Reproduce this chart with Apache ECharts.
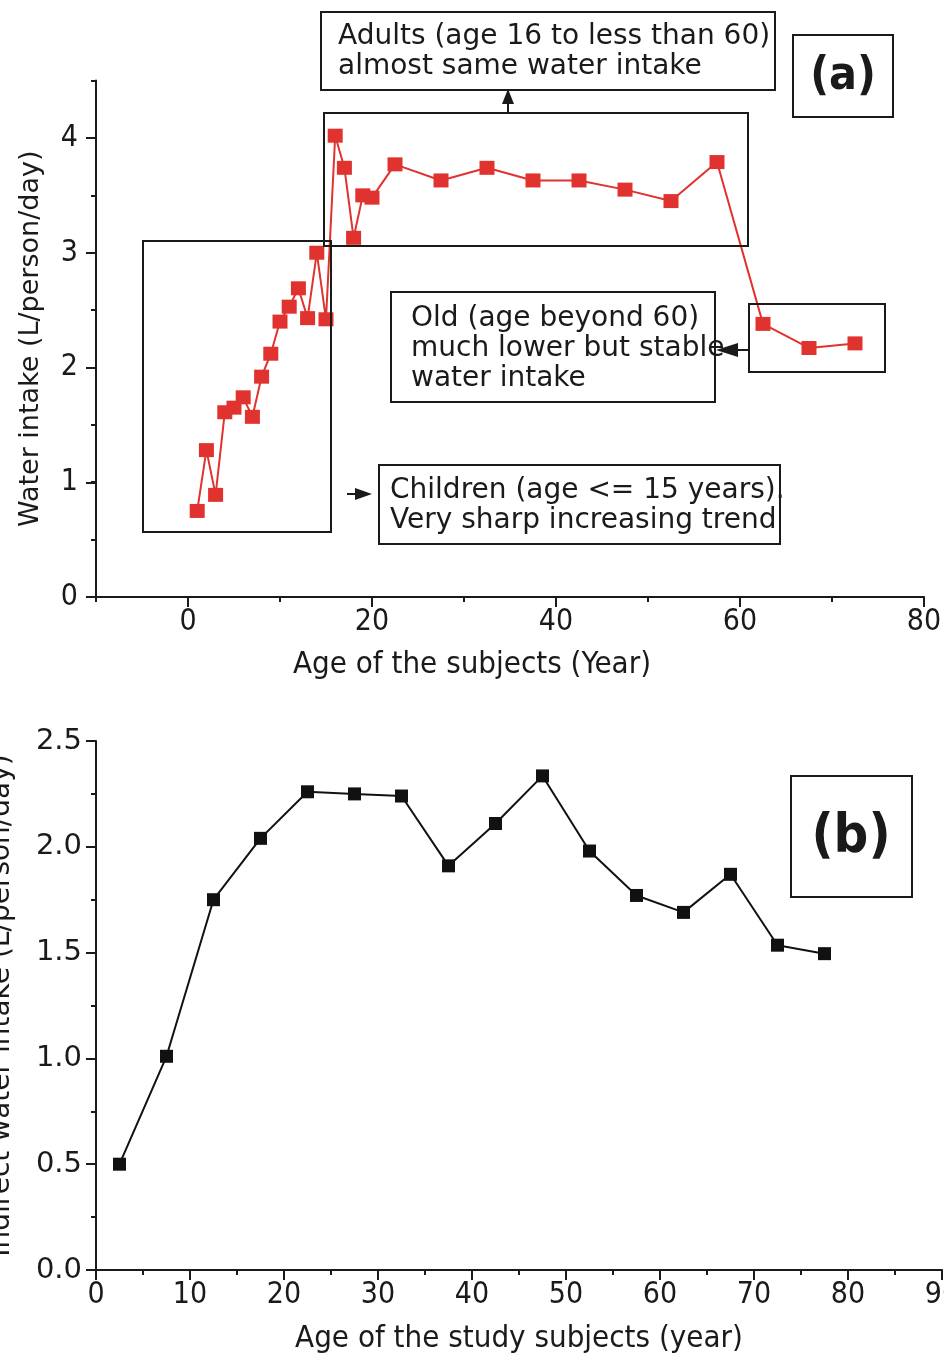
<!DOCTYPE html>
<html><head><meta charset="utf-8">
<script src="https://cdn.jsdelivr.net/npm/echarts@6/dist/echarts.min.js"></script>
<style>html,body{margin:0;padding:0;background:#fff}#c{width:944px;height:1357px}</style>
</head><body><div id="c"></div>
<script>
// ---- Panel (a) data ----
const ageA = [1,2,3,4,5,6,7,8,9,10,11,12,13,14,15,16,17,18,19,20,22.5,27.5,32.5,37.5,42.5,47.5,52.5,57.5,62.5,67.5,72.5];
const intakeA = [0.75,1.28,0.89,1.61,1.65,1.74,1.57,1.92,2.12,2.40,2.53,2.69,2.43,3.00,2.42,4.02,3.74,3.13,3.50,3.48,3.77,3.63,3.74,3.63,3.63,3.55,3.45,3.79,2.38,2.17,2.21];
// ---- Panel (b) data ----
const ageB = [2.5,7.5,12.5,17.5,22.5,27.5,32.5,37.5,42.5,47.5,52.5,57.5,62.5,67.5,72.5,77.5];
const intakeB = [0.50,1.01,1.75,2.04,2.26,2.25,2.24,1.91,2.11,2.335,1.98,1.77,1.69,1.87,1.535,1.495];
// ---- texts ----
const titleXA = 'Age of the subjects (Year)';
const titleYA = 'Water intake (L/person/day)';
const titleXB = 'Age of the study subjects (year)';
const titleYB = 'Indirect water intake (L/person/day)';
const noteAdults = 'Adults (age 16 to less than 60)\nalmost same water intake';
const noteOld = 'Old (age beyond 60)\nmuch lower but stable\nwater intake';
const noteChildren = 'Children (age <= 15 years).\nVery sharp increasing trend';

const INK = '#1a1a1a';
const RED = '#e0322e';
const COND = 'DejaVu Sans Condensed';
const SANS = 'DejaVu Sans';

const chart = echarts.init(document.getElementById('c'));

const axisLine = {onZero:false, lineStyle:{color:INK, width:2}};
const tickStyle = {color:INK, width:2};

function pairs(xs, ys){ return xs.map((x,i)=>[x, ys[i]]); }

const rect = (x,y,w,h,fill) => ({type:'rect', shape:{x,y,width:w,height:h}, style:{fill:fill||null, stroke:INK, lineWidth:2}, z:100});
const text = (x,y,t,font,align) => ({type:'text', x, y, style:{text:t, font, fill:INK, lineHeight:30, verticalAlign:'middle', align:align||'left'}, z:101});
const line = (x1,y1,x2,y2) => ({type:'line', shape:{x1,y1,x2,y2}, style:{stroke:INK, lineWidth:2}, z:101});
const tri = (pts) => ({type:'polygon', shape:{points:pts}, style:{fill:INK}, z:102});

const option = {
  animation:false,
  backgroundColor:'#fff',
  grid:[
    {left:96, top:80.6, width:828, height:516.4, containLabel:false, outerBoundsMode:'none'},
    {left:188, top:138, width:736, height:459, containLabel:false, outerBoundsMode:'none'},
    {left:96, top:741, width:846, height:529, containLabel:false, outerBoundsMode:'none'}
  ],
  xAxis:[
    {gridIndex:0, type:'value', min:-10, max:80, interval:10,
     axisLine, axisTick:{length:5, lineStyle:tickStyle}, axisLabel:{show:false}, splitLine:{show:false},
     name:titleXA, nameLocation:'middle', nameGap:52,
     nameTextStyle:{fontFamily:COND, fontSize:31, color:INK, padding:[0,76,0,0]}},
    {gridIndex:1, type:'value', min:0, max:80, interval:20,
     axisLine:{show:false, onZero:false}, axisTick:{length:10, lineStyle:tickStyle},
     axisLabel:{fontFamily:COND, fontSize:30, color:INK, margin:10}, splitLine:{show:false}},
    {gridIndex:2, type:'value', min:0, max:90, interval:10,
     axisLine, axisTick:{length:10, lineStyle:tickStyle},
     minorTick:{show:true, splitNumber:2, length:5, lineStyle:tickStyle},
     axisLabel:{fontFamily:COND, fontSize:30, color:INK, margin:10}, splitLine:{show:false},
     name:titleXB, nameLocation:'middle', nameGap:53,
     nameTextStyle:{fontFamily:COND, fontSize:31, color:INK}}
  ],
  yAxis:[
    {gridIndex:0, type:'value', min:0, max:4.5, interval:0.5,
     axisLine, axisTick:{length:5, lineStyle:tickStyle}, axisLabel:{show:false}, splitLine:{show:false},
     name:titleYA, nameLocation:'middle', nameGap:52,
     nameTextStyle:{fontFamily:SANS, fontSize:27, color:INK}},
    {gridIndex:1, type:'value', min:0, max:4, interval:1, offset:92,
     axisLine:{show:false, onZero:false}, axisTick:{length:10, lineStyle:tickStyle},
     axisLabel:{fontFamily:COND, fontSize:30, color:INK, margin:18}, splitLine:{show:false}},
    {gridIndex:2, type:'value', min:0, max:2.5, interval:0.5,
     axisLine, axisTick:{length:10, lineStyle:tickStyle},
     minorTick:{show:true, splitNumber:2, length:5, lineStyle:tickStyle},
     axisLabel:{fontFamily:SANS, fontSize:29, color:INK, margin:14, formatter:v=>v.toFixed(1)}, splitLine:{show:false},
     name:titleYB, nameLocation:'middle', nameGap:80,
     nameTextStyle:{fontFamily:SANS, fontSize:28, color:INK}}
  ],
  series:[
    {type:'line', xAxisIndex:0, yAxisIndex:0, data:pairs(ageA, intakeA),
     symbol:'rect', symbolSize:[15,14], showSymbol:true,
     itemStyle:{color:RED}, lineStyle:{color:RED, width:2}, z:5},
    {type:'line', xAxisIndex:2, yAxisIndex:2, data:pairs(ageB, intakeB),
     symbol:'rect', symbolSize:13, showSymbol:true,
     itemStyle:{color:'#111'}, lineStyle:{color:'#111', width:2}, z:5}
  ],
  graphic:[
    // grouping boxes in panel (a)
    rect(143,241,188,291),
    rect(324,113,424,133),
    rect(749,304,136,68),
    // note boxes
    rect(321,12,454,78,'#fff'),
    text(338,52,noteAdults,'28px "DejaVu Sans"'),
    rect(391,292,324,110,'#fff'),
    text(411,349,noteOld,'28px "DejaVu Sans"'),
    rect(379,465,401,79,'#fff'),
    text(390,506,noteChildren,'28px "DejaVu Sans"'),
    // arrows
    line(508,113,508,102), tri([[508,89],[502,104],[514,104]]),
    line(749,350,736,350), tri([[716,350],[738,343],[738,357]]),
    line(347,494,356,494), tri([[372,494],[355,488],[355,500]]),
    // panel labels
    rect(793,35,100,82,'#fff'),
    text(843,77,'(a)','bold 46px "DejaVu Sans Condensed"','center'),
    rect(791,776,121,121,'#fff'),
    text(851,838,'(b)','bold 54px "DejaVu Sans Condensed"','center')
  ]
};
chart.setOption(option);
</script>
</body></html>
